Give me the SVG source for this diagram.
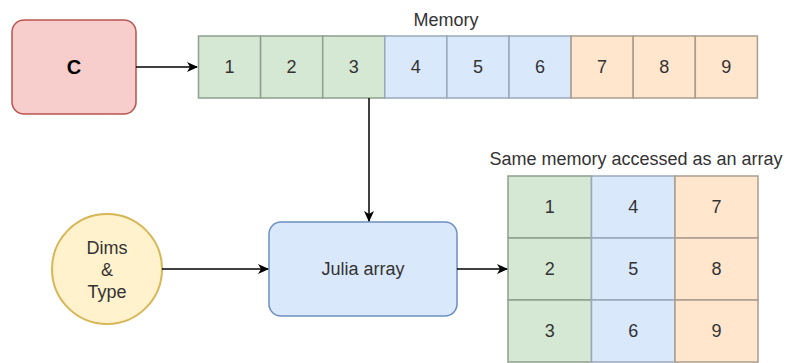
<svg xmlns="http://www.w3.org/2000/svg" width="790" height="363" viewBox="0 0 790 363">
<defs>
<style>
text{font-family:"Liberation Sans",Arial,sans-serif;font-size:18px;fill:#333;text-anchor:middle;dominant-baseline:central}
.g{fill:#d5e8d4;stroke:#8f9f8d;stroke-width:1.5}
.b{fill:#dae8fc;stroke:#9ba8ba;stroke-width:1.5}
.o{fill:#ffe6cc;stroke:#aa9d8e;stroke-width:1.5}
.ln{fill:none;stroke:#000;stroke-width:1.5}
</style>
<marker id="ah" markerWidth="12" markerHeight="10" refX="10" refY="5" orient="auto" markerUnits="userSpaceOnUse">
<path d="M0,0 L11,5 L0,10 L3,5 Z" fill="#000"/>
</marker>
</defs>
<rect width="790" height="363" fill="#fff"/>
<g id="c">
<rect x="12" y="20" width="124" height="94" rx="12" fill="#f8cecc" stroke="#b85450" stroke-width="1.5"/>
<text x="74" y="67" style="font-weight:bold;font-size:20px;fill:#000">C</text>
</g>
<g id="memory">
<text x="446" y="20">Memory</text>
<rect class="g" x="198.5" y="36" width="62.1" height="62"/>
<rect class="g" x="260.6" y="36" width="62.1" height="62"/>
<rect class="g" x="322.7" y="36" width="62.1" height="62"/>
<rect class="b" x="384.8" y="36" width="62.1" height="62"/>
<rect class="b" x="446.9" y="36" width="62.1" height="62"/>
<rect class="b" x="509" y="36" width="62.1" height="62"/>
<rect class="o" x="571.1" y="36" width="62.1" height="62"/>
<rect class="o" x="633.2" y="36" width="62.1" height="62"/>
<rect class="o" x="695.3" y="36" width="62.1" height="62"/>
<text x="229.5" y="67">1</text>
<text x="291.6" y="67">2</text>
<text x="353.7" y="67">3</text>
<text x="415.8" y="67">4</text>
<text x="477.9" y="67">5</text>
<text x="540" y="67">6</text>
<text x="602.1" y="67">7</text>
<text x="664.2" y="67">8</text>
<text x="726.3" y="67">9</text>
</g>
<g id="dims">
<circle cx="107" cy="269" r="55" fill="#fff2cc" stroke="#d6b656" stroke-width="2"/>
<text x="107" y="248">Dims</text>
<text x="107" y="270">&amp;</text>
<text x="107" y="292">Type</text>
</g>
<g id="julia">
<rect x="269" y="222" width="188" height="94" rx="12" fill="#dae8fc" stroke="#6c8ebf" stroke-width="1.5"/>
<text x="363" y="269">Julia array</text>
</g>
<g id="array">
<text x="636" y="159">Same memory accessed as an array</text>
<rect class="g" x="508" y="176" width="83.5" height="62"/>
<rect class="g" x="508" y="238" width="83.5" height="62"/>
<rect class="g" x="508" y="300" width="83.5" height="62"/>
<rect class="b" x="591.5" y="176" width="83.5" height="62"/>
<rect class="b" x="591.5" y="238" width="83.5" height="62"/>
<rect class="b" x="591.5" y="300" width="83.5" height="62"/>
<rect class="o" x="675" y="176" width="83" height="62"/>
<rect class="o" x="675" y="238" width="83" height="62"/>
<rect class="o" x="675" y="300" width="83" height="62"/>
<text x="549.7" y="207">1</text>
<text x="549.7" y="269">2</text>
<text x="549.7" y="331">3</text>
<text x="633.2" y="207">4</text>
<text x="633.2" y="269">5</text>
<text x="633.2" y="331">6</text>
<text x="716.5" y="207">7</text>
<text x="716.5" y="269">8</text>
<text x="716.5" y="331">9</text>
</g>
<g id="connectors">
<path class="ln" d="M136,67 H197" marker-end="url(#ah)"/>
<path class="ln" d="M369,98 V221" marker-end="url(#ah)"/>
<path class="ln" d="M162,269 H268" marker-end="url(#ah)"/>
<path class="ln" d="M457,269 H507" marker-end="url(#ah)"/>
</g>
</svg>
